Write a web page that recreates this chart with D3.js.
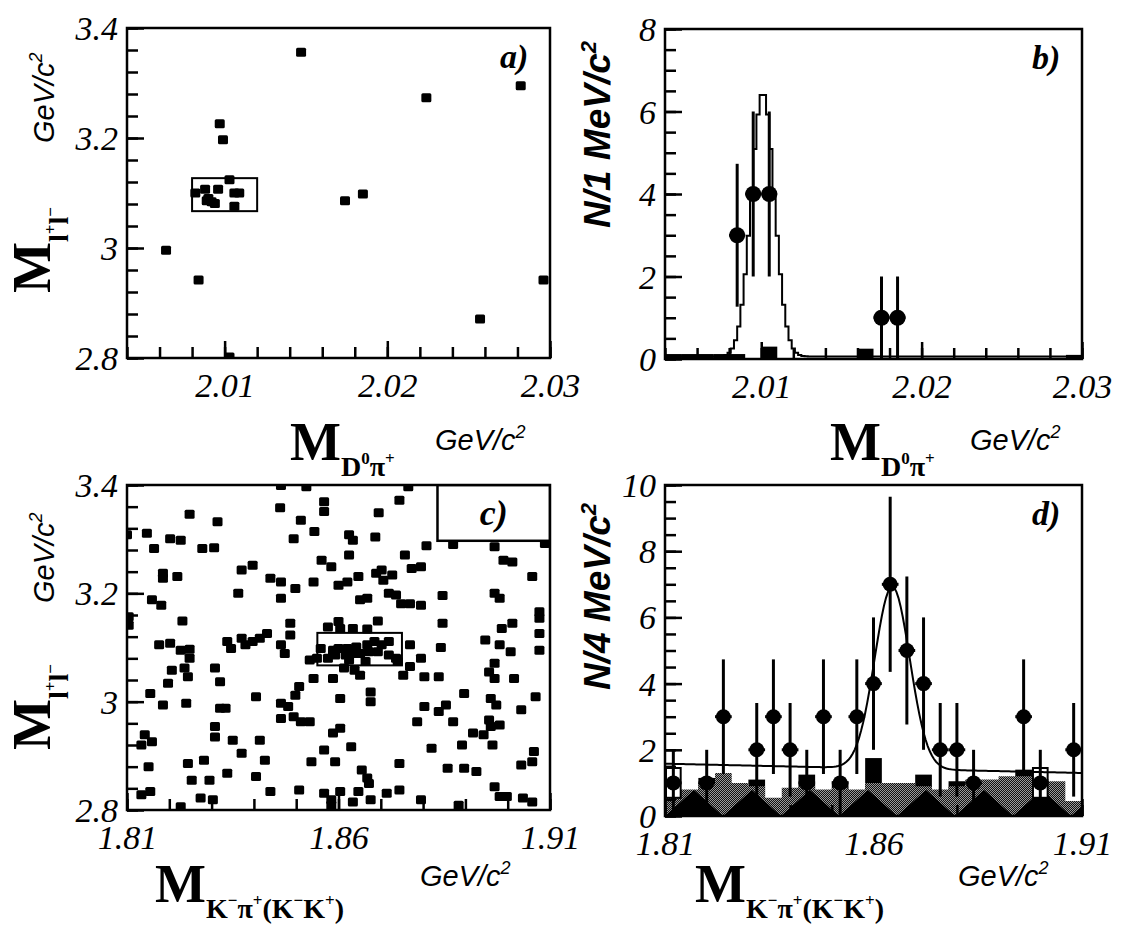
<!DOCTYPE html>
<html><head><meta charset="utf-8">
<script src="https://cdn.jsdelivr.net/npm/d3@7"></script>
<style>
html,body{margin:0;padding:0;background:#fff;}
svg{display:block;}
</style></head>
<body>
<svg id="fig" width="1129" height="932"></svg>
<script>
// ---------------- data ----------------
// a) M(l+l-) versus M(D0 pi+) candidates [GeV/c^2]
const scatterA = [
  [2.0147,3.356],[2.0282,3.295],[2.0224,3.273],[2.0097,3.226],[2.0099,3.197],
  [2.0174,3.086],[2.0185,3.098],[2.0064,2.996],[2.0084,2.942],[2.0296,2.942],
  [2.0257,2.871],[2.0103,2.802],
  [2.0103,3.124],[2.0082,3.100],[2.0088,3.107],[2.0096,3.107],[2.0090,3.090],
  [2.0092,3.084],[2.0094,3.081],[2.0089,3.086],[2.0106,3.100],[2.0109,3.100],
  [2.0106,3.076]
];
const windowA = {x0: 2.008, x1: 2.012, y0: 3.067, y1: 3.127};

// b) M(D0 pi+) inside the J/psi window, 1 MeV/c^2 bins
const bCenters = [2.0085, 2.0095, 2.0105, 2.0175, 2.0185];
const bCounts  = [3, 4, 4, 1, 1];
const bBkgStart = 2.004, bBkgWidth = 0.001;
const bBkg = [0.12,0.12,0.12,0.12,0.12,0,0.3,0,0,0,0,0,0.25,0,0,0,0,0,0,0,0,0,0,0,0,0.1];
const bFit = {mean: 2.0101, sigma: 0.00072, amp: 6.4, base: 0.06};

// c) M(l+l-) versus M(K- pi+ (K- K+)) candidates [GeV/c^2]
const scatterC = [
  [1.8464,3.399],[1.8524,3.397],[1.8765,3.397],[1.8462,3.358],[1.8566,3.369],[1.8566,3.351],
  [1.8744,3.372],[1.8695,3.349],[1.8248,3.346],[1.8511,3.335],[1.8314,3.332],[1.8100,3.308],
  [1.8147,3.311],[1.8202,3.301],[1.8227,3.298],[1.8543,3.314],[1.8625,3.308],[1.8634,3.298],
  [1.8687,3.304],[1.8494,3.301],[1.8164,3.283],[1.8278,3.283],[1.8306,3.284],[1.8808,3.288],
  [1.8871,3.290],[1.8969,3.286],[1.9088,3.292],[1.8757,3.271],[1.8625,3.271],[1.8560,3.261],
  [1.8583,3.249],[1.8990,3.261],[1.9011,3.258],[1.8371,3.243],[1.8397,3.252],[1.8702,3.243],
  [1.8773,3.246],[1.8795,3.249],[1.8185,3.237],[1.8185,3.228],[1.8219,3.231],[1.8727,3.234],
  [1.8439,3.228],[1.8464,3.221],[1.8541,3.221],[1.8600,3.215],[1.8621,3.221],[1.8647,3.231],
  [1.8689,3.237],[1.8706,3.224],[1.9058,3.231],[1.8363,3.200],[1.8498,3.209],[1.8464,3.191],
  [1.8668,3.191],[1.8651,3.188],[1.8719,3.200],[1.8736,3.197],[1.8748,3.181],[1.8769,3.181],
  [1.8795,3.178],[1.8846,3.196],[1.8981,3.191],[1.8969,3.200],[1.8159,3.188],[1.8181,3.178],
  [1.9075,3.166],[1.9075,3.154],[1.8104,3.157],[1.8104,3.141],[1.8231,3.149],[1.8486,3.145],
  [1.8600,3.148],[1.8693,3.149],[1.8846,3.145],[1.8986,3.135],[1.9011,3.145],[1.8575,3.138],
  [1.8604,3.135],[1.8634,3.135],[1.8668,3.134],[1.8431,3.126],[1.8414,3.117],[1.8371,3.117],
  [1.8337,3.111],[1.8380,3.105],[1.8397,3.111],[1.8486,3.123],[1.8947,3.114],[1.9075,3.126],
  [1.8202,3.108],[1.8227,3.095],[1.8248,3.097],[1.8248,3.080],[1.8176,3.105],[1.8346,3.098],
  [1.8464,3.105],[1.8473,3.089],[1.9075,3.095],[1.8769,3.105],[1.8842,3.100],[1.8981,3.105],
  [1.9007,3.092],
  [1.8558,3.098],[1.8587,3.095],[1.8600,3.098],[1.8621,3.098],[1.8642,3.101],[1.8668,3.105],
  [1.8685,3.111],[1.8702,3.105],[1.8719,3.111],[1.8592,3.086],[1.8617,3.086],[1.8634,3.089],
  [1.8651,3.089],[1.8672,3.092],[1.8693,3.092],[1.8719,3.086],[1.8736,3.080],[1.8549,3.080],
  [1.8575,3.080],[1.8532,3.077],[1.8625,3.077],[1.8740,3.074],[1.8795,3.080],[1.8769,3.065],
  [1.8206,3.058],[1.8236,3.062],[1.8308,3.062],[1.8969,3.071],[1.8956,3.055],[1.8613,3.062],
  [1.8638,3.058],[1.8664,3.074],[1.8753,3.049],[1.8803,3.046],[1.8837,3.046],[1.8541,3.043],
  [1.8587,3.043],[1.8651,3.049],[1.8244,3.046],[1.8197,3.034],[1.8320,3.037],[1.8969,3.043],
  [1.9015,3.043],
  [1.8507,3.028],[1.8498,3.012],[1.8676,3.018],[1.8676,3.000],[1.8604,3.006],[1.8897,3.015],
  [1.8960,3.006],[1.9066,3.009],[1.8405,3.009],[1.8464,2.997],[1.8481,2.991],[1.8155,3.015],
  [1.8185,2.994],[1.8240,2.997],[1.8320,2.988],[1.8333,2.988],[1.8803,2.991],[1.8854,2.994],
  [1.8837,2.982],[1.9032,2.985],[1.8973,2.994],
  [1.8464,2.969],[1.8494,2.972],[1.8511,2.963],[1.8532,2.963],[1.8786,2.963],[1.8871,2.963],
  [1.8956,2.966],[1.8960,2.954],[1.8981,2.957],[1.8308,2.954],[1.8604,2.951],[1.8587,2.942],
  [1.8142,2.939],[1.8159,2.926],[1.8350,2.929],[1.8414,2.929],[1.8918,2.942],[1.8943,2.939],
  [1.8134,2.920],[1.8308,2.935],[1.8820,2.914],[1.8892,2.920],[1.8964,2.920],[1.9062,2.908],
  [1.8566,2.911],[1.8630,2.917],[1.8371,2.905],
  [1.8244,2.886],[1.8282,2.892],[1.8426,2.892],[1.8536,2.889],[1.8592,2.889],[1.8744,2.886],
  [1.8858,2.877],[1.8897,2.877],[1.8926,2.871],[1.9032,2.883],[1.9058,2.889],[1.8151,2.880],
  [1.8337,2.868],[1.8405,2.862],[1.8655,2.874],[1.8668,2.859],[1.8672,2.849],[1.8253,2.855],
  [1.8295,2.855],
  [1.8507,2.837],[1.8566,2.831],[1.8439,2.834],[1.8134,2.828],[1.8155,2.834],[1.8274,2.822],
  [1.8303,2.819],[1.8583,2.819],[1.8604,2.834],[1.8647,2.834],[1.8676,2.819],[1.8714,2.831],
  [1.8744,2.837],[1.8795,2.819],[1.8884,2.809],[1.8969,2.843],[1.8981,2.825],[1.8998,2.825],
  [1.9036,2.822],[1.9058,2.815],[1.8583,2.809],[1.8634,2.815],[1.8227,2.806]
];
const windowC = {x0: 1.855, x1: 1.875, y0: 3.067, y1: 3.127};
const cLabelBox = {x0: 1.8834, y0: 3.297};

// d) M(K- pi+ (K- K+)) inside the J/psi window, 4 MeV/c^2 bins from 1.81
const dStart = 1.81, dWidth = 0.004;
const dCounts   = [1,0,1,3,0,2,3,2,1,3,1,3,4,7,5,4,2,2,1,0,0,3,1,0,2];
const dSideband = [0.8,0.8,1.0,1.3,1.0,0.9,0.55,0.85,0.9,0.8,0.85,0.8,1.0,1.0,1.0,0.9,0.8,0.9,1.1,1.1,1.2,1.2,1.1,1.05,0.45];
const dBlack    = [0,0,1.15,0,0,1.1,0,0,1.25,0,1.05,0,1.75,0,0,1.25,0,1.05,0,0,0,1.4,0,0,0];
const dOpen     = [{bin: 0, lo: 0.55, hi: 1.45}, {bin: 22, lo: 0.55, hi: 1.45}];
const dFit = {mean: 1.8645, sigma: 0.0042, amp: 5.5, bg0: 1.58, bg1: 1.30};

// axis ticks
const xTicksAB = [2.01, 2.02, 2.03];
const xTicksCD = [1.81, 1.86, 1.91];
const yTicksAC = [2.8, 3.0, 3.2, 3.4];
const yTicksB  = [0, 2, 4, 6, 8];
const yTicksD  = [0, 2, 4, 6, 8, 10];

// ---------------- layout ----------------
const P = {
  a: {l: 127, r: 550, t: 28, b: 358},
  b: {l: 665, r: 1082, t: 29, b: 359},
  c: {l: 127, r: 550, t: 485, b: 810},
  d: {l: 665, r: 1082, t: 485, b: 816}
};
const serif = "'Liberation Serif','Times New Roman',serif";
const sans  = "'Liberation Sans',Arial,sans-serif";
const svg = d3.select('#fig');
const defs = svg.append('defs');

const rng = (a, step, n) => d3.range(n).map(i => +(a + step * i).toFixed(4));

function scales(p, xd, yd) {
  return {
    x: d3.scaleLinear().domain(xd).range([p.l, p.r]),
    y: d3.scaleLinear().domain(yd).range([p.b, p.t])
  };
}

function clipFor(id, p) {
  defs.append('clipPath').attr('id', id)
    .append('rect').attr('x', p.l).attr('y', p.t).attr('width', p.r - p.l).attr('height', p.b - p.t);
  return svg.append('g').attr('clip-path', `url(#${id})`);
}

function styleAxis(g) {
  g.attr('font-family', null).attr('font-size', null);
  g.select('.domain').remove();
  g.selectAll('.tick line').attr('stroke', '#000').attr('stroke-width', 2.5);
  g.selectAll('text')
    .style('font-family', serif).style('font-style', 'italic')
    .style('font-size', '34px').attr('fill', '#000');
}

function drawAxes(p, s, o) {
  const fmt = d3.format('~g');
  // minor ticks
  svg.append('g').attr('transform', `translate(0,${p.b})`)
    .call(d3.axisBottom(s.x).tickValues(o.xMinor).tickSize(-11).tickFormat(''))
    .call(styleAxis);
  svg.append('g').attr('transform', `translate(${p.l},0)`)
    .call(d3.axisLeft(s.y).tickValues(o.yMinor).tickSize(-11).tickFormat(''))
    .call(styleAxis);
  // major ticks with labels
  const gx = svg.append('g').attr('transform', `translate(0,${p.b})`)
    .call(d3.axisBottom(s.x).tickValues(o.xMajor).tickSize(-17).tickPadding(14).tickFormat(fmt))
    .call(styleAxis);
  gx.selectAll('text').attr('dy', '0.74em');
  const gy = svg.append('g').attr('transform', `translate(${p.l},0)`)
    .call(d3.axisLeft(s.y).tickValues(o.yMajor).tickSize(-17).tickPadding(9).tickFormat(fmt))
    .call(styleAxis);
  gy.selectAll('text').attr('dy', '0.34em');
  // frame
  svg.append('rect').attr('x', p.l).attr('y', p.t).attr('width', p.r - p.l).attr('height', p.b - p.t)
    .attr('fill', 'none').attr('stroke', '#000').attr('stroke-width', 2.5);
}

function panelLabel(p, txt) {
  svg.append('text').attr('x', p.r - 50).attr('y', p.t + 40)
    .style('font-family', serif).style('font-style', 'italic').style('font-weight', 'bold')
    .style('font-size', '34px').text(txt);
}

// rich text: parts = [text, fontSize, dy]
function rich(x, y, rot, parts, styles) {
  const t = svg.append('text').attr('transform', `translate(${x},${y}) rotate(${rot})`);
  Object.entries(styles).forEach(([k, v]) => t.style(k, v));
  parts.forEach(([s, fs, dy]) => t.append('tspan').style('font-size', fs + 'px').attr('dy', dy).text(s));
  return t;
}
const boldSerif = {'font-family': serif, 'font-weight': 'bold'};
const gevStyle  = {'font-family': sans, 'font-style': 'italic'};
const nStyle    = {'font-family': sans, 'font-style': 'italic', 'font-weight': 'bold'};

const mllParts = [['M', 54, 0], ['l', 28, 18], ['+', 17, -12], ['l', 28, 12], ['−', 17, -12]];
const mDpiParts = [['M', 54, 0], ['D', 28, 16], ['0', 17, -12], ['π', 28, 12], ['+', 17, -12]];
const mKpiParts = [['M', 54, 0], ['K', 28, 16], ['−', 17, -12], ['π', 28, 12], ['+', 17, -12],
                   ['(', 28, 12], ['K', 28, 0], ['−', 17, -12], ['K', 28, 12], ['+', 17, -12], [')', 28, 12]];
const gevParts = [['GeV/c', 29, 0], ['2', 18, -12]];

// markers
function squares(g, s, pts) {
  g.selectAll(null).data(pts).join('rect')
    .attr('x', d => s.x(d[0]) - 5).attr('y', d => s.y(d[1]) - 4.5)
    .attr('width', 10).attr('height', 9).attr('rx', 1.5).attr('fill', '#000');
}
function windowBox(g, s, w) {
  g.append('rect').attr('x', s.x(w.x0)).attr('y', s.y(w.y1))
    .attr('width', s.x(w.x1) - s.x(w.x0)).attr('height', s.y(w.y0) - s.y(w.y1))
    .attr('fill', 'none').attr('stroke', '#000').attr('stroke-width', 2);
}
function errPoints(g, s, xs, ns, halfW, r) {
  xs.forEach((xc, i) => {
    const n = ns[i], e = Math.sqrt(n);
    g.append('line').attr('x1', s.x(xc)).attr('x2', s.x(xc))
      .attr('y1', s.y(Math.max(0, n - e))).attr('y2', s.y(n + e))
      .attr('stroke', '#000').attr('stroke-width', 3);
    g.append('line').attr('x1', s.x(xc - halfW)).attr('x2', s.x(xc + halfW))
      .attr('y1', s.y(n)).attr('y2', s.y(n))
      .attr('stroke', '#000').attr('stroke-width', 3);
    g.append('circle').attr('cx', s.x(xc)).attr('cy', s.y(n)).attr('r', r).attr('fill', '#000');
  });
}

// ---------------- panel a ----------------
{
  const p = P.a, s = scales(p, [2.004, 2.03], [2.8, 3.4]);
  const g = clipFor('clipA', p);
  squares(g, s, scatterA);
  windowBox(g, s, windowA);
  drawAxes(p, s, {xMajor: xTicksAB, xMinor: rng(2.004, 0.002, 14), yMajor: yTicksAC, yMinor: rng(2.8, 0.04, 16)});
  panelLabel(p, 'a)');
  rich(50, 293, -90, mllParts, boldSerif);
  rich(54, 143, -90, gevParts, gevStyle);
  rich(290, 460, 0, mDpiParts, boldSerif);
  rich(435, 450, 0, gevParts, gevStyle);
}

// ---------------- panel b ----------------
{
  const p = P.b, s = scales(p, [2.004, 2.03], [0, 8]);
  const g = clipFor('clipB', p);
  g.selectAll(null).data(bBkg).join('rect')
    .attr('x', (d, i) => s.x(bBkgStart + i * bBkgWidth))
    .attr('width', (d, i) => s.x(bBkgStart + (i + 1) * bBkgWidth) - s.x(bBkgStart + i * bBkgWidth))
    .attr('y', d => s.y(d)).attr('height', d => s.y(0) - s.y(d)).attr('fill', '#000');
  const fb = m => bFit.base + bFit.amp * Math.exp(-0.5 * ((m - bFit.mean) / bFit.sigma) ** 2);
  const mb = d3.range(131).map(i => 2.004 + i * 0.0002);
  g.append('path').datum(mb)
    .attr('d', d3.line().x(m => s.x(m)).y(m => s.y(fb(m))).curve(d3.curveStep))
    .attr('fill', 'none').attr('stroke', '#000').attr('stroke-width', 2);
  errPoints(g, s, bCenters, bCounts, 0.0005, 8);
  drawAxes(p, s, {xMajor: xTicksAB, xMinor: rng(2.004, 0.002, 14), yMajor: yTicksB, yMinor: rng(0, 0.5, 17)});
  panelLabel(p, 'b)');
  rich(610, 228, -90, [['N/1 MeV/c', 37, 0], ['2', 22, -14]], nStyle);
  rich(830, 460, 0, mDpiParts, boldSerif);
  rich(970, 450, 0, gevParts, gevStyle);
}

// ---------------- panel c ----------------
{
  const p = P.c, s = scales(p, [1.81, 1.91], [2.8, 3.4]);
  const g = clipFor('clipC', p);
  squares(g, s, scatterC);
  windowBox(g, s, windowC);
  g.append('rect').attr('x', s.x(cLabelBox.x0)).attr('y', p.t)
    .attr('width', p.r - s.x(cLabelBox.x0)).attr('height', s.y(cLabelBox.y0) - p.t)
    .attr('fill', '#fff').attr('stroke', '#000').attr('stroke-width', 2.5);
  drawAxes(p, s, {xMajor: xTicksCD, xMinor: rng(1.81, 0.01, 11), yMajor: yTicksAC, yMinor: rng(2.8, 0.04, 16)});
  svg.append('text').attr('x', (s.x(cLabelBox.x0) + p.r) / 2).attr('y', (p.t + s.y(cLabelBox.y0)) / 2 + 12)
    .attr('text-anchor', 'middle')
    .style('font-family', serif).style('font-style', 'italic').style('font-weight', 'bold')
    .style('font-size', '36px').text('c)');
  rich(50, 750, -90, mllParts, boldSerif);
  rich(54, 603, -90, gevParts, gevStyle);
  rich(155, 902, 0, mKpiParts, boldSerif);
  rich(420, 886, 0, gevParts, gevStyle);
}

// ---------------- panel d ----------------
{
  const p = P.d, s = scales(p, [1.81, 1.91], [0, 10]);
  // fill textures: fine stipple, plus a zig-zag band along the base
  const st = defs.append('pattern').attr('id', 'stipple').attr('patternUnits', 'userSpaceOnUse')
    .attr('width', 2).attr('height', 2);
  st.append('rect').attr('width', 2).attr('height', 2).attr('fill', '#9a9a9a');
  st.append('rect').attr('width', 1).attr('height', 1).attr('fill', '#111');
  st.append('rect').attr('x', 1).attr('y', 1).attr('width', 1).attr('height', 1).attr('fill', '#111');
  const per = 58, tri = 26;
  const zz = defs.append('pattern').attr('id', 'sbfill').attr('patternUnits', 'userSpaceOnUse')
    .attr('x', p.l).attr('y', 0).attr('width', per).attr('height', p.b);
  zz.append('rect').attr('width', per).attr('height', p.b).attr('fill', 'url(#stipple)');
  zz.append('polygon').attr('points', `0,${p.b} ${per / 2},${p.b - tri} ${per},${p.b}`).attr('fill', '#000');

  const g = clipFor('clipD', p);
  const edge = i => dStart + i * dWidth;
  // black histogram
  g.selectAll(null).data(dBlack.map((v, i) => ({v, i})).filter(d => d.v > 0)).join('rect')
    .attr('x', d => s.x(edge(d.i))).attr('width', d => s.x(edge(d.i + 1)) - s.x(edge(d.i)))
    .attr('y', d => s.y(d.v)).attr('height', d => s.y(0) - s.y(d.v)).attr('fill', '#000');
  // sideband histogram
  const sb = dSideband.map((v, i) => ({m: edge(i), v})).concat([{m: edge(dSideband.length), v: dSideband[dSideband.length - 1]}]);
  g.append('path').datum(sb)
    .attr('d', d3.area().x(d => s.x(d.m)).y0(s.y(0)).y1(d => s.y(d.v)).curve(d3.curveStepAfter))
    .attr('fill', 'url(#sbfill)');
  // open bins
  g.selectAll(null).data(dOpen).join('rect')
    .attr('x', d => s.x(edge(d.bin)) + 1).attr('width', d => s.x(edge(d.bin + 1)) - s.x(edge(d.bin)) - 2)
    .attr('y', d => s.y(d.hi)).attr('height', d => s.y(d.lo) - s.y(d.hi))
    .attr('fill', '#fff').attr('stroke', '#000').attr('stroke-width', 2);
  // fit
  const fd = m => dFit.bg0 + (dFit.bg1 - dFit.bg0) * (m - 1.81) / 0.1
    + dFit.amp * Math.exp(-0.5 * ((m - dFit.mean) / dFit.sigma) ** 2);
  const md = d3.range(201).map(i => 1.81 + i * 0.0005);
  g.append('path').datum(md)
    .attr('d', d3.line().x(m => s.x(m)).y(m => s.y(fd(m))))
    .attr('fill', 'none').attr('stroke', '#000').attr('stroke-width', 2);
  // data
  const cx = [], cn = [];
  dCounts.forEach((n, i) => { if (n > 0) { cx.push(edge(i) + dWidth / 2); cn.push(n); } });
  errPoints(g, s, cx, cn, dWidth / 2, 7.5);
  drawAxes(p, s, {xMajor: xTicksCD, xMinor: rng(1.81, 0.01, 11), yMajor: yTicksD, yMinor: rng(0, 0.5, 21)});
  panelLabel(p, 'd)');
  rich(610, 690, -90, [['N/4 MeV/c', 37, 0], ['2', 22, -14]], nStyle);
  rich(695, 902, 0, mKpiParts, boldSerif);
  rich(958, 886, 0, gevParts, gevStyle);
}
</script>
</body></html>
